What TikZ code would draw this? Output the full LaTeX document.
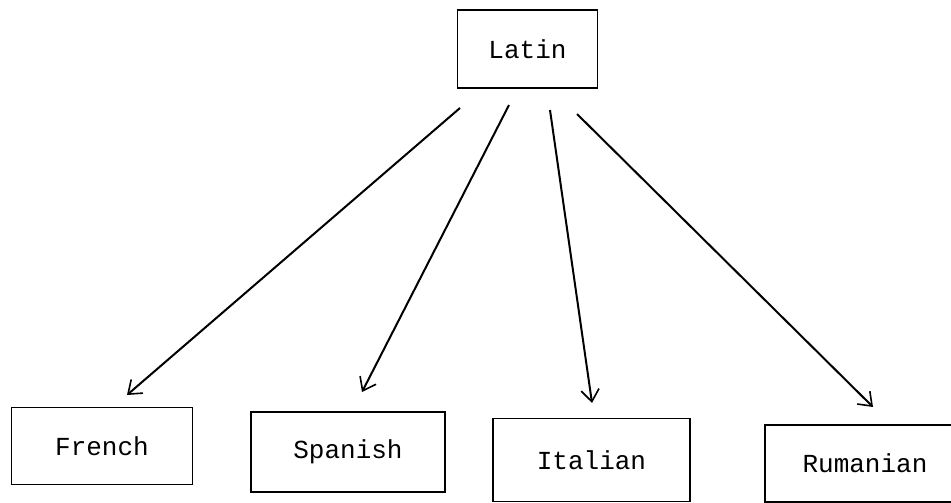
\documentclass[tikz,border=0pt]{standalone}
\usepackage{fontspec}
\setmonofont{Liberation Mono}
\usetikzlibrary{arrows.meta}
\begin{document}
\begin{tikzpicture}[x=1pt,y=-1pt,
  lang/.style={draw, line width=1.6pt, inner sep=0pt, font=\ttfamily\fontsize{26}{26}\selectfont},
  conn/.style={line width=2pt, -{Straight Barb[length=12pt,width=18pt,line width=1.6pt]}}]
\useasboundingbox (0,0) rectangle (951,503);
\node[lang, minimum width=140pt, minimum height=78pt] (latin) at (527.5,49) {Latin};
\node[lang, minimum width=181pt, minimum height=77pt] (french) at (102,446) {French};
\node[lang, minimum width=194pt, minimum height=80pt] (spanish) at (348,452) {Spanish};
\node[lang, minimum width=197pt, minimum height=83pt] (italian) at (591.5,460) {Italian};
\node[lang, minimum width=200pt, minimum height=77pt] (rumanian) at (865,463.5) {Rumanian};
\coordinate (s1) at (460,108);
\coordinate (s2) at (509,105);
\coordinate (s3) at (550,110);
\coordinate (s4) at (577,114);
\coordinate (t1) at (127,395);
\coordinate (t2) at (362,392);
\coordinate (t3) at (592,403);
\coordinate (t4) at (873,407);
\draw[conn] (s1) -- (t1);
\draw[conn] (s2) -- (t2);
\draw[conn] (s3) -- (t3);
\draw[conn] (s4) -- (t4);
\end{tikzpicture}
\end{document}
